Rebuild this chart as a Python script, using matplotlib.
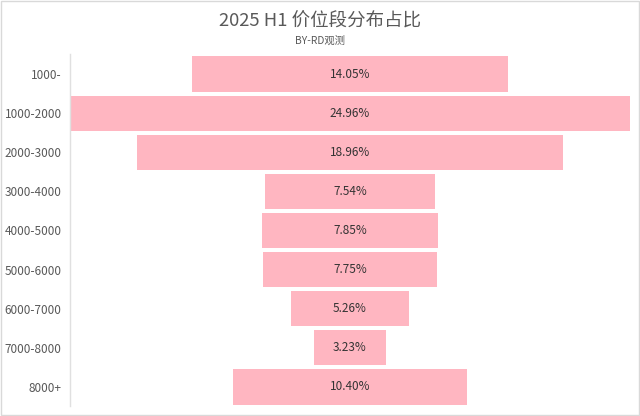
import matplotlib
matplotlib.use("Agg")
import matplotlib.pyplot as plt
from matplotlib.patches import Rectangle

plt.rcParams['font.family'] = ['Noto Sans CJK SC', 'DejaVu Sans']

categories = ['1000-', '1000-2000', '2000-3000', '3000-4000', '4000-5000',
              '5000-6000', '6000-7000', '7000-8000', '8000+']
shares = [14.05, 24.96, 18.96, 7.54, 7.85, 7.75, 5.26, 3.23, 10.40]

fig = plt.figure(figsize=(6.4, 4.16), dpi=100, facecolor='white')
ax = fig.add_axes([70/640, 1 - 406.5/416, 560/640, 352/416])

ypos = list(range(len(categories)))
lefts = [-v / 2 for v in shares]
ax.barh(ypos, shares, left=lefts, height=0.9, color='#FFB6C1', edgecolor='none')

for y, v in zip(ypos, shares):
    ax.text(0, y, f'{v:.2f}%', ha='center', va='center', fontsize=8.5, color='#333333')

half = max(shares) / 2
ax.set_xlim(-half, half)
ax.set_ylim(len(categories) - 0.5, -0.5)
ax.set_yticks(ypos)
ax.set_yticklabels(categories, fontsize=8.5, color='#595959')
ax.set_xticks([])
ax.tick_params(axis='y', length=0, pad=6)
for side in ['top', 'right', 'bottom']:
    ax.spines[side].set_visible(False)
ax.spines['left'].set_color('#e0e0e0')
ax.spines['left'].set_linewidth(1)

fig.text(0.5, 1 - 22/416, '2025 H1 价位段分布占比', ha='center', va='center',
         fontsize=13.3, color='#595959')
fig.text(0.5, 1 - 41/416, 'BY-RD观测', ha='center', va='center',
         fontsize=7.4, color='#595959')

fig.patches.append(Rectangle((0.002, 0.003), 0.996, 0.994, transform=fig.transFigure,
                             fill=False, edgecolor='#d9d9d9', linewidth=1))

fig.savefig('out.png', dpi=100, facecolor='white')
